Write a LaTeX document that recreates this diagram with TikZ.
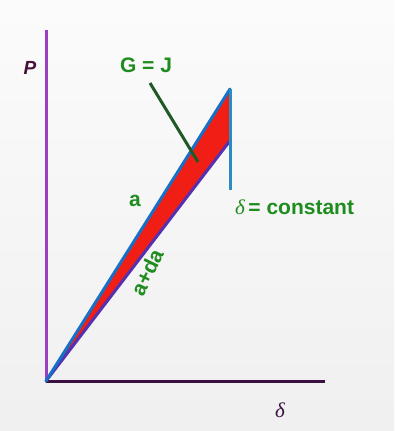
\documentclass[tikz,border=0pt]{standalone}
\usepackage{fontspec}
\setmainfont{Liberation Sans}
\newfontfamily\serifit{Liberation Serif}
\definecolor{axv}{HTML}{9A3FC0}
\definecolor{axh}{HTML}{3A1040}
\definecolor{lblue}{HTML}{1570C8}
\definecolor{lvert}{HTML}{2A8CC0}
\definecolor{lpurp}{HTML}{5530B0}
\definecolor{redf}{HTML}{F01E14}
\definecolor{txtg}{HTML}{1E8C1E}
\definecolor{leader}{HTML}{1F5A25}
\definecolor{plab}{HTML}{4A1038}
\tikzset{
  lbl/.style={text=txtg, font=\bfseries\fontsize{21}{21}\selectfont, inner sep=0pt},
  axis/.style={line width=3pt},
  curve/.style={line width=3pt, line cap=round}
}
\begin{document}
\begin{tikzpicture}[x=1pt,y=-1pt]
\shade[top color=white!97!gray, bottom color=white!88!gray] (0,0) rectangle (394,431);
\useasboundingbox (0,0) rectangle (394,431);
\coordinate (O) at (46,381);
\coordinate (Ytop) at (46,30);
\coordinate (Xend) at (325,381);
\coordinate (A) at (230,89);
\coordinate (B) at (229,142);
\coordinate (C) at (230,190);
\coordinate (L1) at (150,83);
\coordinate (L2) at (198,162);
\fill[redf] (O) -- (A) -- (B) -- cycle;
\draw[axis, axv] (O) -- (Ytop);
\draw[axis, axh] (O) -- (Xend);
\draw[curve, lpurp] (O) -- (B);
\draw[curve, lblue] (O) -- (A);
\draw[curve, lvert, line cap=butt] (A) -- (C);
\draw[line width=3pt, leader] (L1) -- (L2);
\node[lbl] (gj) at (146,65) {G = J};
\node[lbl] (a) at (135,201) {a};
\node[lbl, rotate=64] (ada) at (147,272) {a+da};
\node[lbl, anchor=west] (dc) at (235,207) {{\serifit\itshape\mdseries δ}\,= constant};
\node[text=plab, font=\bfseries\itshape\fontsize{19}{19}\selectfont, inner sep=0pt] (P) at (30,68) {P};
\node[text=axh, font=\serifit\itshape\fontsize{21}{21}\selectfont, inner sep=0pt] (d) at (280,410) {δ};
\end{tikzpicture}
\end{document}
